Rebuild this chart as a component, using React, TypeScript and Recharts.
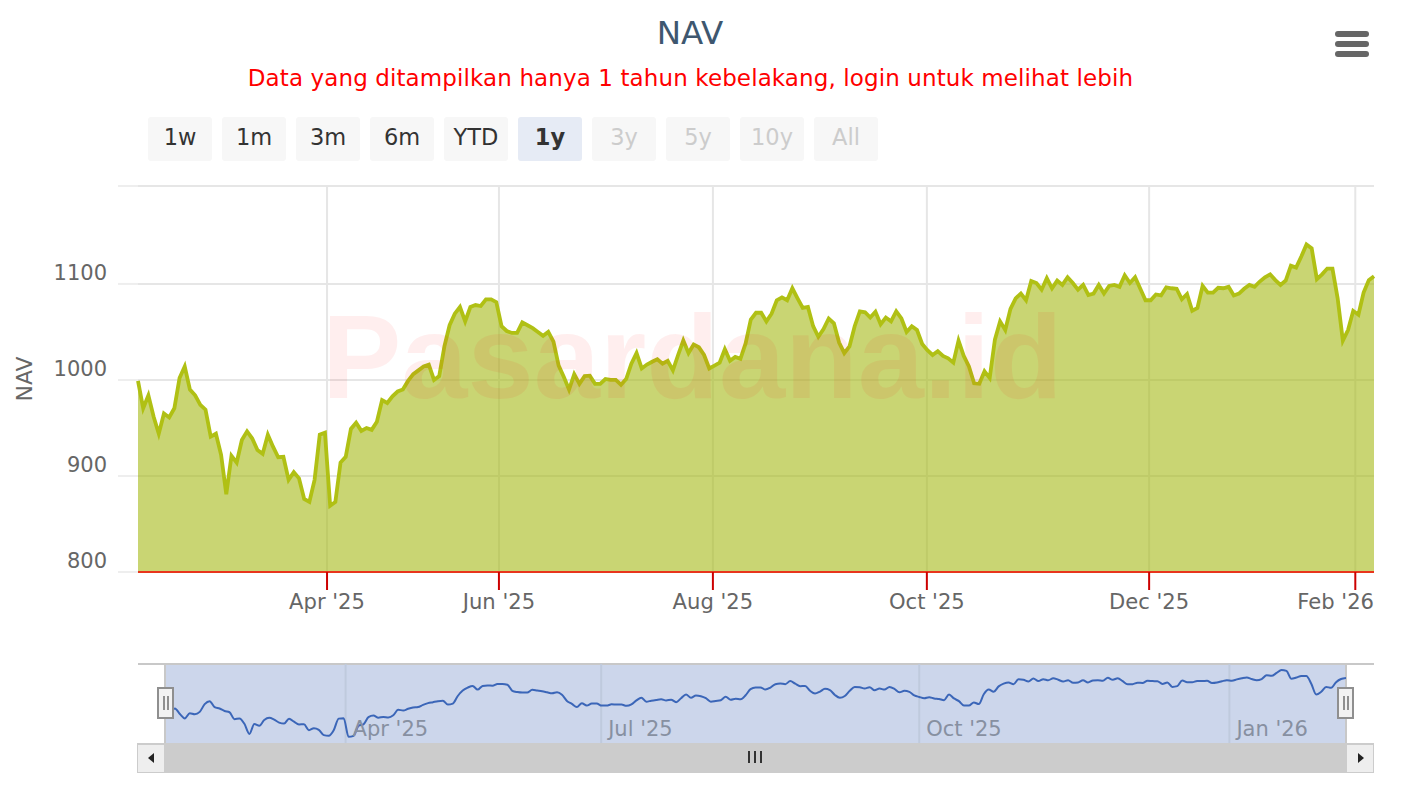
import React from "react";
import { AreaChart, Area, LineChart, Line, XAxis, YAxis, CartesianGrid } from "recharts";

const FONT = "'DejaVu Sans', sans-serif";

const navValues: number[] = [
  999, 970.5, 984, 962, 944, 965, 961, 970.5, 1002, 1014, 990, 984, 974, 969, 941, 944, 922, 881, 921, 914,
  937.5, 946.5, 939, 927, 923, 943, 930.5, 919.5, 920, 896, 904, 897.5, 876, 873, 896, 943, 945, 869, 873, 914,
  920, 949, 955.5, 947, 950, 948, 956.5, 979, 976, 983, 988, 990, 999, 1006, 1010, 1014, 1016, 1000, 1004, 1035,
  1057, 1069, 1076, 1061, 1076, 1078, 1077, 1084, 1084, 1081, 1056, 1051, 1049, 1049, 1060, 1057, 1054, 1050, 1046, 1050,
  1040, 1015, 1003, 990, 1006, 996, 1004, 1004.5, 996, 996, 1001, 1000, 1000, 995, 1001, 1017, 1028, 1012, 1016, 1019,
  1021.5, 1017, 1020, 1010, 1026, 1041, 1028, 1037, 1034, 1026, 1012, 1015, 1018, 1032, 1020, 1024, 1022, 1038, 1063, 1070,
  1070, 1061, 1069, 1083, 1086, 1083, 1095.5, 1085, 1075, 1076, 1056, 1045, 1053, 1064, 1059, 1039, 1028, 1035, 1056, 1071.5,
  1070.5, 1065, 1071, 1058, 1065, 1061, 1071.5, 1064, 1050, 1056, 1052, 1037.5, 1031, 1026, 1030, 1025, 1022.5, 1018, 1041, 1025,
  1014, 996.5, 996, 1009, 1002, 1042, 1061, 1052, 1074, 1085, 1090, 1083, 1103, 1101, 1094, 1106, 1095.5, 1103.5, 1099, 1107,
  1101, 1094, 1099, 1088.5, 1090, 1099, 1090, 1098, 1099, 1097, 1109, 1101, 1107, 1095, 1083, 1083, 1089, 1088, 1096.5, 1095.5,
  1095, 1084, 1089.5, 1072, 1075, 1098, 1091, 1091, 1096, 1095.5, 1097, 1088, 1090, 1095, 1099, 1097, 1102.5, 1107, 1110, 1104,
  1099, 1103.5, 1119, 1117, 1128.5, 1141, 1137, 1105, 1110, 1116, 1116, 1085, 1041, 1052, 1072, 1068, 1091, 1104, 1108,
];
const chartData = navValues.map((nav, i) => ({ i, nav }));

const yTop = 1202;
const yTicks = [800, 900, 1000, 1100, yTop];
const xTickPositions = [36.4, 69.5, 110.7, 151.9, 194.7, 234.4];
const xTickLabels = ["Apr '25", "Jun '25", "Aug '25", "Oct '25", "Dec '25", "Feb '26"];
const navTickPositions = [36.4, 87.9, 152, 214.5];
const navTickLabels = ["Apr '25", "Jul '25", "Oct '25", "Jan '26"];
const rangeButtons = ["1w", "1m", "3m", "6m", "YTD", "1y", "3y", "5y", "10y", "All"];
const disabledButtons = ["3y", "5y", "10y", "All"];

const box = (left: number, top: number, width: number, height: number, extra: React.CSSProperties = {}): React.CSSProperties => ({
  position: "absolute", left, top, width, height, boxSizing: "border-box", ...extra,
});

function YTick({ y, payload }: any) {
  return (
    <g>
      <line x1={118} x2={138} y1={y} y2={y} stroke="#eeeeee" strokeWidth={2} />
      {payload.value < yTop && (
        <text x={107} y={y - 4} textAnchor="end" fontSize={21} fontFamily={FONT} fill="#666666">{payload.value}</text>
      )}
    </g>
  );
}

function XTick({ x, y, index }: any) {
  const last = index === xTickLabels.length - 1;
  return (
    <g>
      <line x1={x} x2={x} y1={y} y2={y + 18} stroke="#cc0000" strokeWidth={2} />
      <text x={last ? 1374 : x} y={y + 37} textAnchor={last ? "end" : "middle"} fontSize={21.1} fontFamily={FONT} fill="#666666">
        {xTickLabels[index]}
      </text>
    </g>
  );
}

function Handle({ left }: { left: number }) {
  return (
    <div style={box(left, 687, 17, 32, { background: "#f2f2f2", border: "2px solid #8f8f8f" })}>
      <div style={box(4, 7, 2, 14, { background: "#8f8f8f" })} />
      <div style={box(8, 7, 2, 14, { background: "#8f8f8f" })} />
    </div>
  );
}

export default function App() {
  return (
    <div style={box(0, 0, 1410, 792, { background: "#fff", overflow: "hidden", fontFamily: FONT })}>
      <div style={box(0, 12, 1380, 42, { textAlign: "center", fontSize: 32.5, lineHeight: "42px", color: "#3e576f" })}>NAV</div>
      <div style={box(0, 62, 1381, 32, { textAlign: "center", fontSize: 23, letterSpacing: 0.11, lineHeight: "32px", color: "#ff0000", whiteSpace: "nowrap" })}>
        Data yang ditampilkan hanya 1 tahun kebelakang, login untuk melihat lebih
      </div>

      {[31, 41, 51].map((t) => (
        <div key={t} style={box(1335, t, 34, 6, { background: "#666", borderRadius: 3 })} />
      ))}

      {rangeButtons.map((b, i) => {
        const active = b === "1y";
        const disabled = disabledButtons.includes(b);
        return (
          <div key={b} style={box(148 + i * 74, 117, 64, 44, {
            background: active ? "#e6ebf5" : "#f7f7f7", borderRadius: 3, textAlign: "center", lineHeight: "41px", fontSize: 22.5,
            color: disabled ? "#cccccc" : "#333333", fontWeight: active ? 700 : 400,
          })}>{b}</div>
        );
      })}

      <div style={box(-15, 364, 80, 30, { transform: "rotate(-90deg)", textAlign: "center", fontSize: 22, lineHeight: "30px", color: "#666666" })}>NAV</div>

      <div style={box(0, 0, 1410, 620)}>
        <AreaChart width={1410} height={620} data={chartData} margin={{ top: 186, right: 36, bottom: 0, left: 0 }}>
          <CartesianGrid stroke="#e6e6e6" strokeWidth={2} verticalValues={xTickPositions} horizontalValues={yTicks} />
          <XAxis
            dataKey="i" type="number" domain={[0, navValues.length - 1]} ticks={xTickPositions} interval={0}
            height={48} axisLine={{ stroke: "#e8351c", strokeWidth: 2 }} tickLine={false} tickSize={0} tickMargin={0} tick={<XTick />}
          />
          <YAxis
            type="number" domain={[800, yTop]} ticks={yTicks} interval={0} allowDataOverflow
            width={138} axisLine={false} tickLine={false} tick={<YTick />}
          />
          <Area
            type="linear" dataKey="nav" stroke="#b0c014" strokeWidth={3.8} fill="#a5b915" fillOpacity={0.6}
            dot={false} activeDot={false} isAnimationActive={false}
          />
        </AreaChart>
      </div>

      <div style={box(322, 287, 760, 140, { pointerEvents: "none", fontFamily: "'Liberation Sans', sans-serif", fontWeight: 700, fontSize: 119, lineHeight: "140px", color: "rgba(255,0,0,0.068)", whiteSpace: "nowrap" })}>
        Pasardana.id
      </div>

      {/* navigator */}
      <div style={box(138, 663, 1236, 2, { background: "#c8c8c8" })} />
      <div style={box(165, 665, 1181, 78, { background: "#ccd6eb" })} />
      <div style={box(164, 665, 2, 78, { background: "#c8c8c8" })} />
      <div style={box(1345, 665, 2, 78, { background: "#c8c8c8" })} />
      <div style={box(165, 664, 1181, 80)}>
        <LineChart width={1181} height={80} data={chartData} margin={{ top: 0, right: 0, bottom: 0, left: 0 }}>
          <CartesianGrid stroke="#bfcadd" strokeWidth={2} horizontal={false} verticalValues={navTickPositions} />
          <XAxis
            dataKey="i" type="number" domain={[0, navValues.length - 1]} ticks={navTickPositions} interval={0}
            height={1} axisLine={false} tickLine={false} tickSize={0} tickMargin={0} tick={(p: any) => (
              <text key={p.index} x={p.x + 7} y={72} textAnchor="start" fontSize={21} fontFamily={FONT} fill="#8790a1">
                {navTickLabels[p.index]}
              </text>
            )}
          />
          <YAxis type="number" domain={[844, 1165]} hide />
          <Line type="monotone" dataKey="nav" stroke="#3b66b8" strokeWidth={2} dot={false} activeDot={false} isAnimationActive={false} />
        </LineChart>
      </div>
      <Handle left={157} />
      <Handle left={1337} />

      {/* scrollbar */}
      <div style={box(137, 743, 1237, 30, { background: "#cccccc" })} />
      <div style={box(138, 745, 26, 27, { background: "#eeeeee" })} />
      <div style={box(1347, 745, 26, 27, { background: "#eeeeee" })} />
      <div style={box(148, 753, 0, 0, { borderTop: "5.5px solid transparent", borderBottom: "5.5px solid transparent", borderRight: "6px solid #222" })} />
      <div style={box(1358, 753, 0, 0, { borderTop: "5.5px solid transparent", borderBottom: "5.5px solid transparent", borderLeft: "6px solid #222" })} />
      {[748, 754, 760].map((l) => (
        <div key={l} style={box(l, 751, 2, 12, { background: "#333" })} />
      ))}
    </div>
  );
}
